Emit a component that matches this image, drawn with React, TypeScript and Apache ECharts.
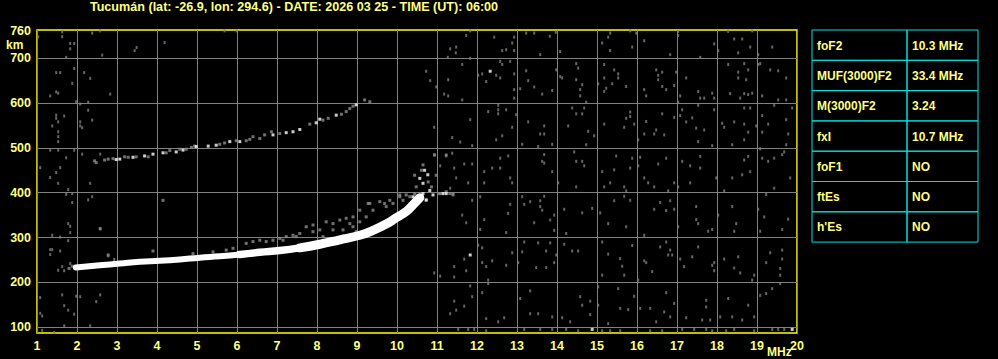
import React, { useEffect, useRef } from "react";
import * as echarts from "echarts";

const TITLE = "Tucumán (lat: -26.9, lon: 294.6) - DATE: 2026 03 25 - TIME (UT): 06:00";
const X_LABELS = [1, 2, 3, 4, 5, 6, 7, 8, 9, 10, 11, 12, 13, 14, 15, 16, 17, 18, 19, 20];
const Y_GRID = [100, 200, 300, 400, 500, 600, 700];
const Y_LABELS = [100, 200, 300, 400, 500, 600, 700, 760];
const PARAM_NAMES = ["foF2", "MUF(3000)F2", "M(3000)F2", "fxI", "foF1", "ftEs", "h'Es"];
const PARAM_VALUES = ["10.3 MHz", "33.4 MHz", "3.24", "10.7 MHz", "NO", "NO", "NO"];

// main F2 trace (MHz, km): low-frequency part (thin), middle part, high-frequency part (wide)
const TRACE_F2_LOW = [
  [1.97, 233], [2.57, 238], [3.07, 242], [3.57, 246], [4.07, 248], [4.57, 251], [5.07, 255],
  [5.57, 258], [6.07, 262], [6.57, 267],
];
const TRACE_F2_MID = [
  [6.07, 262], [6.57, 267], [7.07, 271], [7.57, 277], [8.07, 285],
];
const TRACE_F2_HIGH = [
  [7.57, 277], [8.07, 285], [8.57, 295], [9.07, 305], [9.4, 316],
  [9.73, 330], [9.98, 344], [10.23, 358], [10.4, 373], [10.57, 389],
];

// bright echoes (cusp + second hop)
const ECHO_WHITE = [
  [10.4, 391], [10.48, 384], [10.57, 391], [10.65, 398], [10.73, 384], [10.65, 421], [10.57, 432],
  [10.69, 450], [10.77, 440], [11.15, 398], [11.23, 398], [10.9, 395], [10.82, 405],
  [2.98, 474], [3.07, 475], [3.4, 479], [3.69, 482], [3.9, 486], [4.15, 489], [4.48, 491],
  [4.65, 495], [4.98, 503], [5.28, 504], [5.48, 506], [5.82, 514], [6.07, 514], [6.9, 529],
  [7.23, 534], [7.4, 536], [7.57, 541], [7.98, 556], [8.07, 564], [8.48, 573], [8.98, 596],
  [12.33, 671], [11.83, 261], [14.88, 95], [19.88, 95],
];

// weaker echoes around the traces
const ECHO_GRAY = [
  [4.9, 264], [5.4, 268], [5.73, 272], [5.9, 276], [6.23, 287], [6.4, 291], [6.57, 294], [6.73, 291],
  [6.9, 294], [7.07, 298], [7.23, 302], [7.4, 305], [7.57, 309], [7.73, 324], [7.9, 328], [8.07, 317],
  [8.23, 335], [8.4, 331], [8.57, 339], [8.73, 343], [8.9, 324], [9.07, 335], [9.23, 346], [9.32, 376],
  [9.4, 361], [9.57, 380], [9.73, 369], [9.9, 376], [10.07, 391], [10.23, 395], [10.73, 383],
  [11.07, 398], [11.23, 402], [11.4, 398], [7.15, 294], [7.48, 302], [7.9, 313], [8.15, 302],
  [8.4, 317], [8.65, 317], [8.82, 331], [8.98, 313],
  [10.07, 395], [10.15, 383], [10.32, 391], [10.44, 439], [10.48, 413], [10.61, 450], [10.78, 424],
  [10.86, 413], [10.98, 439], [11.07, 398], [11.32, 398], [11.4, 395], [9.69, 376], [9.82, 383],
  [9.28, 376], [9.07, 361], [8.9, 346], [10.94, 484], [11.23, 484], [10.65, 462], [10.44, 398],
  [2.44, 471], [2.48, 467], [2.69, 473], [2.78, 475], [2.9, 476], [3.19, 480], [3.28, 479],
  [3.48, 480], [3.78, 480], [4.23, 489], [4.32, 494], [4.57, 497], [4.73, 497], [4.86, 501],
  [4.94, 504], [5.57, 508], [5.69, 511], [5.98, 516], [6.23, 516], [6.32, 519], [6.4, 525],
  [6.57, 521], [6.69, 529], [6.86, 536], [7.07, 532], [7.82, 553], [8.15, 562], [8.28, 566],
  [8.61, 575], [8.73, 581], [8.82, 588], [8.9, 593], [9.19, 607], [9.32, 603],
  [1.88, 236], [1.8, 231], [2.78, 261], [3.9, 270], [4.15, 383], [2.58, 320],
];

// background noise dots
const NOISE_LEFT = [
  [1.03, 748], [1.63, 759], [1.63, 748], [1.83, 733], [1.93, 733], [1.83, 721], [1.73, 702],
  [2.38, 756], [2.58, 761], [2.63, 707], [1.48, 668], [1.58, 668], [1.93, 677], [2.18, 668],
  [2.33, 655], [1.88, 644], [1.48, 625], [1.53, 622], [1.33, 616], [2.83, 620], [1.98, 603],
  [2.08, 598], [2.28, 602], [2.28, 584], [2.38, 562], [1.48, 573], [1.48, 566], [1.68, 571],
  [1.53, 558], [1.38, 549], [2.08, 558], [2.08, 549], [2.13, 545], [1.53, 536], [1.53, 525],
  [1.53, 514], [1.33, 495], [1.53, 495], [1.93, 495], [2.13, 486], [2.58, 486], [1.73, 478],
  [1.58, 456], [1.08, 456], [1.48, 445], [1.33, 434], [1.53, 421], [2.33, 421], [1.78, 407],
  [1.73, 396], [1.88, 398], [1.88, 378], [2.28, 384], [2.38, 391], [1.78, 331], [1.83, 325],
  [1.83, 311], [1.38, 305], [1.58, 301], [1.78, 293], [2.58, 319], [1.33, 273], [1.38, 273],
  [1.58, 270], [1.33, 262], [2.78, 259], [2.93, 251], [1.63, 235], [1.53, 227], [1.68, 226],
  [1.83, 242], [1.08, 166], [1.63, 172], [1.98, 169], [2.08, 168], [2.58, 172], [1.68, 148],
  [1.78, 138], [2.48, 157], [1.93, 129], [1.08, 131], [1.13, 125], [1.68, 103], [2.33, 103],
  [1.13, 93], [1.43, 88], [3.44, 717], [3.49, 724], [4.19, 735], [5.69, 761], [5.99, 761],
];

const NOISE_RIGHT_HIGH = [
  [11.83, 761], [11.73, 751], [11.48, 725], [11.33, 721], [11.47, 712], [11.27, 702], [11.83, 700],
  [12.43, 747], [12.93, 747], [12.88, 734], [12.73, 719], [12.63, 717], [12.93, 717], [13.23, 756],
  [13.43, 756], [13.82, 749], [13.97, 758], [13.58, 708], [14.08, 715], [15.13, 734], [15.33, 756],
  [15.28, 747], [15.83, 761], [15.98, 756], [15.88, 725], [16.18, 739], [15.33, 717], [16.83, 708],
  [17.03, 760], [17.03, 751], [17.93, 732], [18.03, 717], [18.28, 760], [18.43, 743], [18.63, 743],
  [18.53, 712], [18.83, 725], [18.88, 761], [19.03, 708], [19.38, 725], [17.58, 702],
  [10.73, 671], [10.83, 650], [10.98, 636], [11.28, 652], [11.18, 620], [11.28, 616], [11.63, 686],
  [11.63, 607], [12.03, 662], [12.13, 665], [12.23, 648], [12.48, 662], [12.58, 656],
  [12.58, 693], [12.63, 686], [12.83, 693], [12.93, 665], [12.93, 630], [12.93, 611], [13.08, 632],
  [13.23, 672], [13.28, 650], [13.43, 636], [13.63, 620], [13.88, 628], [13.98, 674], [14.08, 659],
  [14.13, 656], [14.48, 688], [14.53, 678], [14.48, 652], [14.63, 641], [14.58, 630], [14.58, 616],
  [14.73, 602], [15.03, 643], [15.18, 686], [15.18, 656], [15.23, 633], [15.18, 626], [15.38, 643],
  [15.43, 674], [15.53, 665], [15.53, 656], [15.73, 637], [16.18, 630], [16.23, 616], [16.48, 674],
  [16.63, 669], [16.53, 662], [16.53, 652], [16.63, 637], [16.73, 630], [16.93, 639], [16.98, 669],
  [17.23, 656], [17.03, 602], [17.08, 616], [17.53, 626], [17.58, 611], [17.68, 611], [17.88, 622],
  [17.93, 611], [18.28, 686], [18.53, 669], [18.53, 656], [18.68, 688], [18.78, 674], [18.73, 652],
  [19.03, 686], [19.08, 688], [19.33, 674], [19.53, 672], [19.73, 656], [18.33, 621], [18.58, 611],
  [18.68, 621], [18.78, 619], [18.88, 622], [19.13, 616], [19.53, 607], [19.73, 607],
];

const NOISE_RIGHT_MID = [
  [10.93, 546], [11.38, 523], [11.58, 513], [11.83, 563], [11.88, 505], [12.28, 581], [12.53, 595],
  [12.53, 585], [12.53, 576], [12.73, 585], [12.88, 546], [12.98, 574], [12.48, 518], [12.63, 527],
  [13.28, 558], [13.68, 549], [13.58, 531], [13.68, 531], [13.13, 508], [13.53, 503], [13.88, 508],
  [14.28, 549], [14.38, 589], [14.48, 576], [14.63, 576], [14.68, 589], [14.78, 537], [14.93, 527],
  [14.73, 507], [15.18, 553], [15.73, 566], [15.83, 580], [15.83, 570], [15.68, 546], [15.93, 553],
  [16.03, 518], [16.23, 559], [16.18, 531], [16.48, 540], [16.43, 531], [16.68, 529], [16.63, 576],
  [16.93, 568], [17.13, 585], [17.08, 572], [17.23, 558], [17.38, 567], [17.53, 595], [17.48, 544],
  [17.68, 540], [17.53, 514], [17.93, 585], [17.88, 505], [18.13, 555], [18.18, 546], [18.43, 558],
  [18.68, 553], [18.78, 535], [18.68, 518], [18.38, 507], [18.68, 589], [18.83, 589], [18.98, 549],
  [19.13, 572], [19.28, 553], [19.13, 535], [19.43, 595], [19.73, 563], [19.78, 531], [19.88, 589],
  [19.73, 507],
  [10.93, 485], [11.23, 482], [11.38, 488], [11.08, 460], [11.43, 455], [11.68, 464], [11.88, 464],
  [11.48, 433], [12.18, 447], [12.38, 455], [12.58, 455], [12.58, 477], [12.78, 482], [12.83, 433],
  [13.68, 485], [13.63, 470], [13.68, 466], [13.88, 447], [14.43, 491], [14.48, 470], [14.63, 470],
  [14.68, 460], [15.13, 447], [15.43, 451], [15.48, 482], [15.83, 455], [15.88, 477], [16.08, 479],
  [16.03, 460], [16.18, 433], [16.53, 464], [16.73, 477], [17.13, 470], [17.33, 460], [17.58, 481],
  [17.58, 455], [17.98, 433], [18.38, 433], [18.63, 440], [18.68, 473], [18.78, 481], [18.83, 447],
  [19.08, 498], [19.13, 477], [19.28, 470], [19.43, 477], [19.63, 485], [19.68, 491], [19.83, 433],
  [11.33, 410], [11.78, 422], [12.18, 422], [12.88, 422], [14.03, 422], [14.48, 413], [15.18, 413],
  [15.33, 422], [15.68, 413], [15.73, 404], [16.28, 422], [16.43, 413], [16.78, 404], [16.93, 422],
  [17.03, 413], [17.33, 422], [18.18, 404], [19.43, 410],
];

const NOISE_RIGHT_LOW = [
  [11.88, 383], [12.08, 391], [11.63, 350], [11.73, 333], [12.08, 318], [12.18, 340], [12.73, 311],
  [12.78, 354], [12.83, 374], [13.13, 391], [13.18, 374], [13.33, 380], [13.43, 333], [13.58, 382],
  [13.58, 369], [13.63, 361], [13.68, 392], [13.83, 339], [13.93, 350], [13.93, 316], [14.18, 363],
  [14.23, 309], [14.63, 355], [14.88, 365], [15.08, 355], [15.28, 331], [15.43, 382], [15.73, 324],
  [15.83, 383], [15.68, 392], [16.18, 305], [16.43, 363], [16.58, 378], [16.73, 360], [16.83, 382],
  [16.93, 363], [17.03, 324], [17.48, 369], [17.53, 331], [17.48, 340], [17.78, 314], [17.88, 318],
  [18.03, 350], [18.38, 369], [18.43, 314], [18.48, 331], [19.03, 363], [19.08, 314], [19.18, 346],
  [19.63, 318], [19.78, 341], [19.23, 396],
  [11.68, 252], [11.43, 235], [10.93, 221], [11.08, 214], [11.43, 212], [11.73, 226], [12.03, 283],
  [12.13, 277], [12.13, 244], [12.23, 235], [12.38, 248], [12.28, 205], [12.73, 238], [12.88, 266],
  [13.03, 244], [13.13, 268], [13.18, 290], [13.53, 288], [13.48, 233], [13.73, 270], [13.73, 233],
  [13.83, 288], [13.93, 244], [13.98, 261], [14.18, 285], [14.38, 270], [14.53, 270], [15.13, 290],
  [15.28, 263], [15.13, 216], [15.58, 253], [15.63, 236], [15.68, 216], [15.88, 282], [16.03, 205],
  [16.18, 248], [16.23, 244], [16.38, 224], [16.58, 279], [16.73, 290], [16.78, 261], [16.83, 272],
  [16.88, 261], [17.08, 252], [17.18, 235], [17.38, 257], [17.53, 279], [17.88, 238], [17.93, 244],
  [17.93, 226], [18.18, 252], [18.53, 257], [18.43, 232], [18.58, 221], [18.93, 216], [18.88, 205],
  [19.33, 266], [19.23, 244], [19.58, 231], [19.63, 252], [19.63, 272], [19.58, 216],
  [11.83, 192], [11.88, 168], [11.68, 147], [11.43, 158], [11.48, 138], [11.33, 130], [12.23, 119],
  [12.13, 177], [12.28, 197], [12.68, 121], [12.53, 112], [13.08, 164], [13.33, 181], [13.33, 130],
  [13.53, 130], [13.88, 123], [14.13, 121], [14.33, 112], [14.58, 168], [14.63, 149], [14.83, 158],
  [14.83, 128], [15.03, 190], [15.03, 149], [15.28, 108], [15.53, 186], [15.58, 142], [15.78, 139],
  [15.93, 169], [16.08, 142], [16.33, 142], [16.48, 112], [16.68, 134], [16.73, 177], [16.83, 123],
  [16.93, 153], [17.23, 121], [17.63, 116], [17.73, 160], [17.73, 145], [17.83, 116], [18.08, 123],
  [18.28, 164], [18.38, 123], [18.63, 116], [18.78, 149], [19.08, 171], [19.23, 175], [19.38, 186],
  [19.58, 197], [18.93, 123],
  [11.53, 95], [11.78, 95], [11.93, 95], [12.23, 92], [13.18, 95], [13.58, 95], [13.88, 95],
  [14.23, 95], [14.53, 92], [15.13, 92], [15.33, 92], [15.58, 92], [16.33, 92], [16.63, 92],
  [17.13, 95], [17.43, 95], [17.73, 95], [17.88, 92], [18.23, 92], [18.43, 95], [18.93, 92],
  [19.38, 95], [19.53, 95], [19.68, 95],
];

const LABEL_COLOR = "#ffff80";
const FONT = "'Liberation Sans', Arial, sans-serif";

export default function App() {
  const ref = useRef<HTMLDivElement>(null);
  useEffect(() => {
    if (!ref.current) return;
    const chart = echarts.init(ref.current, undefined, { renderer: "svg" });
    const gray = "#808080";
    const noise = [...NOISE_LEFT, ...NOISE_RIGHT_HIGH, ...NOISE_RIGHT_MID, ...NOISE_RIGHT_LOW];

    const tableLeft = 812;
    const tableTop = 30;
    const colSplit = 907;
    const tableRight = 978;
    const rowH = 30.3;
    const tableEls: any[] = [];
    PARAM_NAMES.forEach((name, i) => {
      const y = tableTop + i * rowH;
      tableEls.push({
        type: "rect",
        shape: { x: tableLeft, y, width: colSplit - tableLeft, height: rowH },
        style: { fill: "transparent", stroke: "#00e0e0", lineWidth: 1 },
      });
      tableEls.push({
        type: "rect",
        shape: { x: colSplit, y, width: tableRight - colSplit, height: rowH },
        style: { fill: "transparent", stroke: "#00e0e0", lineWidth: 1 },
      });
      tableEls.push({
        type: "text",
        x: tableLeft + 5,
        y: y + rowH / 2 + 0.5,
        style: {
          text: name, fill: LABEL_COLOR, font: `bold 12px ${FONT}`,
          textAlign: "left", textVerticalAlign: "middle",
        },
      });
      tableEls.push({
        type: "text",
        x: colSplit + 5,
        y: y + rowH / 2 + 0.5,
        style: {
          text: PARAM_VALUES[i], fill: LABEL_COLOR, font: `bold 12px ${FONT}`,
          textAlign: "left", textVerticalAlign: "middle",
        },
      });
    });

    const traceLine = (data: number[][], width: number) => ({
      type: "line", data, showSymbol: false, smooth: true, silent: true,
      lineStyle: { color: "#ffffff", width, cap: "round", join: "round" },
    });

    chart.setOption({
      animation: false,
      backgroundColor: "#000000",
      grid: {
        left: 37, top: 30, width: 760, height: 303,
        show: true, borderColor: "#ffff00", borderWidth: 1.5, backgroundColor: "#000000",
      },
      xAxis: {
        type: "value", min: 1, max: 20, interval: 1,
        axisLine: { show: false }, axisTick: { show: false },
        splitLine: { show: true, lineStyle: { color: gray, width: 1 } },
        axisLabel: {
          customValues: X_LABELS, color: LABEL_COLOR, fontFamily: FONT, fontWeight: "bold",
          fontSize: 12.5, margin: 6,
        },
      },
      yAxis: {
        type: "value", min: 87, max: 763,
        axisLine: { show: false },
        axisTick: { show: false, customValues: Y_GRID },
        splitLine: { show: true, lineStyle: { color: gray, width: 1 } },
        axisLabel: {
          customValues: Y_LABELS, color: LABEL_COLOR, fontFamily: FONT, fontWeight: "bold",
          fontSize: 12.5, margin: 6,
        },
      },
      series: [
        {
          type: "scatter", data: noise, symbol: "rect", symbolSize: [2, 3],
          itemStyle: { color: gray }, silent: true,
        },
        {
          type: "scatter", data: ECHO_GRAY, symbol: "rect", symbolSize: [3, 3],
          itemStyle: { color: "#8c8c8c" }, silent: true,
        },
        traceLine(TRACE_F2_LOW, 6),
        traceLine(TRACE_F2_MID, 7.5),
        traceLine(TRACE_F2_HIGH, 9),
        {
          type: "scatter", data: ECHO_WHITE, symbol: "rect", symbolSize: [3, 3],
          itemStyle: { color: "#ffffff" }, silent: true,
        },
      ],
      graphic: [
        {
          type: "text", x: 294, y: 7,
          style: {
            text: TITLE, fill: LABEL_COLOR, font: `bold 12.6px ${FONT}`,
            textAlign: "center", textVerticalAlign: "middle",
          },
        },
        {
          type: "text", x: 6, y: 45,
          style: {
            text: "km", fill: LABEL_COLOR, font: `bold 12px ${FONT}`,
            textAlign: "left", textVerticalAlign: "middle",
          },
        },
        {
          type: "text", x: 767, y: 352,
          style: {
            text: "MHz", fill: LABEL_COLOR, font: `bold 12px ${FONT}`,
            textAlign: "left", textVerticalAlign: "middle",
          },
        },
        ...tableEls,
      ],
    });
    return () => chart.dispose();
  }, []);
  return (
    <div
      ref={ref}
      style={{ position: "fixed", left: 0, top: 0, width: 998, height: 359, background: "#000" }}
    />
  );
}
